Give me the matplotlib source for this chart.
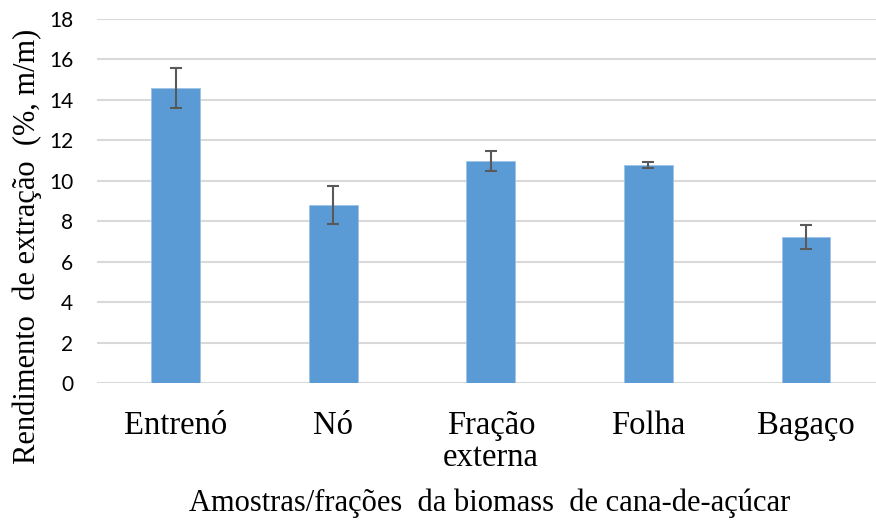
import numpy as np
import matplotlib.pyplot as plt

categories = ['Entrenó', 'Nó', 'Fração\nexterna', 'Folha', 'Bagaço']
rendimento = [14.6, 8.8, 10.97, 10.78, 7.21]
erro = [1.0, 0.95, 0.5, 0.15, 0.6]
yticks = [0, 2, 4, 6, 8, 10, 12, 14, 16, 18]

fig = plt.figure(figsize=(8.76, 5.27), dpi=100)
ax = fig.add_axes([97 / 876, 1 - 383 / 527, 1 - 97 / 876, (383 - 19) / 527])

x = np.arange(len(categories))
ax.bar(x, rendimento, width=0.31, color='#5B9BD5', edgecolor='#9DC3E6',
       linewidth=0.6, zorder=3)
ax.errorbar(x, rendimento, yerr=erro, fmt='none', ecolor='#595959',
            elinewidth=1.5, capsize=4.2, capthick=1.5, zorder=4)

ax.set_ylim(0, 18)
ax.set_xlim(-0.5, len(categories) - 0.556)
ax.set_yticks(yticks)
ax.set_xticks(x)
ax.set_xticklabels(categories, family='Liberation Serif', fontsize=23.5,
                   linespacing=1.05)
for lbl in ax.get_yticklabels():
    lbl.set_family('Lato')
    lbl.set_fontsize(15)
    lbl.set_color('#000000')

ax.yaxis.grid(True, color='#D9D9D9', linewidth=1.5, zorder=0)
ax.set_axisbelow(True)
for s in ax.spines.values():
    s.set_visible(False)
ax.tick_params(axis='both', length=0)
ax.tick_params(axis='y', pad=17)
ax.tick_params(axis='x', pad=20)

ax.set_ylabel('Rendimento  de extração  (%, m/m)', family='Liberation Serif',
              fontsize=22)
ax.yaxis.set_label_coords((42 - 97) / 779, (383 - 246) / 364)
ax.set_xlabel('Amostras/frações  da biomass  de cana-de-açúcar',
              family='Liberation Serif', fontsize=22)
ax.xaxis.set_label_coords((490 - 97) / 779, -(489 - 383) / 364)

fig.savefig('out.png', dpi=100)
